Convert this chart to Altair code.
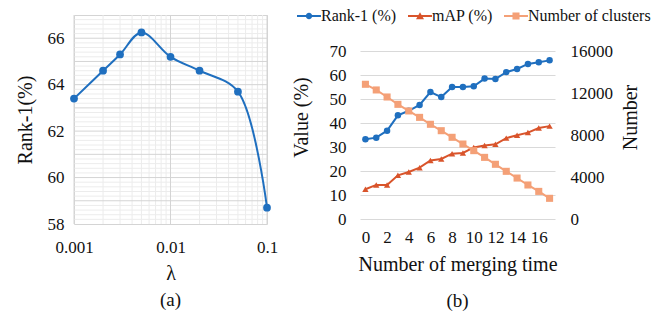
import altair as alt
import pandas as pd

FONT = "Liberation Serif"
TXT = "#111111"

# ---------------- (a) ----------------
lam = [0.001, 0.002, 0.003, 0.005, 0.01, 0.02, 0.05, 0.1]
rank1_a = [63.4, 64.6, 65.3, 66.25, 65.2, 64.6, 63.7, 58.7]
x_major_a = [0.001, 0.01, 0.1]
x_minor_a = [0.002, 0.003, 0.004, 0.005, 0.006, 0.007, 0.008, 0.009,
             0.02, 0.03, 0.04, 0.05, 0.06, 0.07, 0.08, 0.09]
y_labels_a = [58, 60, 62, 64, 66]
y_major_a = [59, 60, 61, 62, 63, 64, 65, 66]
y_minor_a = [round(58 + 0.2 * k, 1) for k in range(45) if k % 5 != 0]

# ---------------- (b) ----------------
merge = list(range(18))
rank1_b = [33.2, 33.9, 36.8, 43.2, 45.1, 47.5, 52.9, 50.8, 55.0, 55.0,
           55.3, 58.5, 58.3, 61.2, 62.5, 64.6, 65.3, 66.1]
map_b = [12.4, 14.2, 14.2, 18.2, 19.6, 21.4, 24.4, 25.0, 27.2, 27.5,
         29.8, 30.6, 31.1, 33.7, 34.9, 36.0, 37.9, 38.7]
clusters_b = [12830, 12290, 11620, 10920, 10290, 9680, 9020, 8410, 7780, 7140,
              6510, 5870, 5210, 4540, 3900, 3240, 2630, 1970]
series_names = ["Rank-1 (%)", "mAP (%)", "Number of clusters"]
series_colors = ["#1f6fbf", "#d9542b", "#f4a077"]
value_ticks = [0, 10, 20, 30, 40, 50, 60, 70]
number_ticks = [0, 4000, 8000, 12000, 16000]
merge_ticks = [0, 2, 4, 6, 8, 10, 12, 14, 16]

BLUE, RED, SALMON = series_colors
MAJOR_GRID = "#d4d4d4"
MINOR_GRID = "#ececec"

# legend symbols: line + marker (custom paths; symbol box is 8px, unit = 4px)
BAR = "M-3,-0.26H3V0.26H-3Z"
legend_paths = [
    BAR + "M-0.8,0A0.8,0.8,0,1,1,0.8,0A0.8,0.8,0,1,1,-0.8,0Z",
    BAR + "M0,-0.95L1.0,0.8H-1.0Z",
    BAR + "M-0.88,-0.88H0.88V0.88H-0.88Z",
]

common_axis = dict(labelFont=FONT, titleFont=FONT, labelColor=TXT, titleColor=TXT,
                   titleFontWeight="normal", domain=False, ticks=False,
                   labelFlush=False, labelOverlap=False)

# ---------------- chart (a) ----------------
df_a = pd.DataFrame({"lam": lam, "rank1": rank1_a})
x_scale_a = alt.Scale(type="log", domain=[0.001, 0.1], nice=False)
y_scale_a = alt.Scale(domain=[58, 67], nice=False, zero=False)
x_axis_a = alt.Axis(values=x_major_a, format=".3~f", grid=False,
                    labelFontSize=17, labelPadding=15,
                    titleFontSize=20, titlePadding=8, **common_axis)
y_axis_a = alt.Axis(values=y_labels_a, format="d", grid=False,
                    labelFontSize=17, labelPadding=10,
                    titleFontSize=20, titlePadding=12, **common_axis)

def xrules(vals, color):
    return alt.Chart(pd.DataFrame({"g": vals})).mark_rule(color=color, strokeWidth=1).encode(
        x=alt.X("g:Q", title="λ", scale=x_scale_a, axis=x_axis_a))

def yrules(vals, color):
    return alt.Chart(pd.DataFrame({"g": vals})).mark_rule(color=color, strokeWidth=1).encode(
        y=alt.Y("g:Q", title="Rank-1(%)", scale=y_scale_a, axis=y_axis_a))

base_a = alt.Chart(df_a).encode(
    x=alt.X("lam:Q", title="λ", scale=x_scale_a, axis=x_axis_a),
    y=alt.Y("rank1:Q", title="Rank-1(%)", scale=y_scale_a, axis=y_axis_a),
)
line_a = base_a.mark_line(interpolate="catmull-rom", color=BLUE, strokeWidth=2)
pts_a = base_a.mark_point(filled=True, size=60, color=BLUE, opacity=1)
chart_a = alt.layer(
    xrules(x_minor_a, MINOR_GRID), yrules(y_minor_a, MINOR_GRID),
    xrules(x_major_a, MAJOR_GRID), yrules(y_major_a, MAJOR_GRID),
    line_a, pts_a,
).properties(
    width=193, height=209,
    view=alt.ViewBackground(stroke=MAJOR_GRID),
    title=alt.TitleParams("(a)", orient="bottom", anchor="middle", fontSize=19,
                          fontWeight="normal", font=FONT, color=TXT, offset=8),
)

# ---------------- chart (b) ----------------
df_b = pd.DataFrame({"m": merge, "rank1": rank1_b, "map": map_b, "clusters": clusters_b})

x_b = alt.X(
    "m:Q", title="Number of merging time",
    scale=alt.Scale(domain=[-0.5, 17.5], nice=False, zero=False),
    axis=alt.Axis(values=merge_ticks, grid=False, format="d",
                  labelFontSize=17, labelPadding=10,
                  titleFontSize=20, titlePadding=9, **common_axis),
)
left_scale = alt.Scale(domain=[0, 85], nice=False)
left_axis = alt.Axis(values=value_ticks, grid=True, gridColor="#d9d9d9", format="d",
                     labelFontSize=17, labelPadding=14,
                     titleFontSize=20, titlePadding=18, **common_axis)
right_scale = alt.Scale(domain=[0, 16000 * 85 / 70], nice=False)
right_axis = alt.Axis(orient="right", values=number_ticks, grid=False, format="d",
                      labelFontSize=17, labelPadding=15,
                      titleFontSize=20, titlePadding=8, titleAngle=270, titleBaseline="top",
                      **common_axis)

def series_layers(field, color, shape, size, scale, axis, title):
    b = alt.Chart(df_b).encode(x=x_b, y=alt.Y(f"{field}:Q", title=title, scale=scale, axis=axis))
    ln = b.mark_line(color=color, strokeWidth=2)
    pt = b.mark_point(filled=True, shape=shape, size=size, color=color, opacity=1)
    return [ln, pt]

leg_kw = dict(title=None, orient="none", direction="horizontal",
              legendX=227, legendY=-7, labelFontSize=16, labelFont=FONT,
              labelColor=TXT, labelOffset=4, columnPadding=11, padding=0,
              symbolSize=64, symbolStrokeWidth=0, labelLimit=300)
df_leg = pd.DataFrame({"series": series_names})
legend_layer = alt.Chart(df_leg).transform_filter("false").mark_point(
    filled=True, size=64, opacity=1
).encode(
    color=alt.Color("series:N", scale=alt.Scale(domain=series_names, range=series_colors),
                    legend=alt.Legend(**leg_kw)),
    shape=alt.Shape("series:N", scale=alt.Scale(domain=series_names, range=legend_paths),
                    legend=alt.Legend(**leg_kw)),
)

left_group = alt.layer(
    *series_layers("rank1", BLUE, "circle", 42, left_scale, left_axis, "Value (%)"),
    *series_layers("map", RED, "triangle-up", 40, left_scale, left_axis, "Value (%)"),
    legend_layer,
)
right_group = alt.layer(
    *series_layers("clusters", SALMON, "square", 50, right_scale, right_axis, "Number"),
)
chart_b = alt.layer(left_group, right_group).resolve_scale(y="independent").properties(
    width=195, height=204,
    title=alt.TitleParams("(b)", orient="bottom", anchor="middle", fontSize=19,
                          fontWeight="normal", font=FONT, color=TXT, offset=18),
)

chart = alt.hconcat(chart_a, chart_b, spacing=93, bounds="flush").properties(
    padding={"left": 6, "top": 0, "right": 0, "bottom": 0}
).configure(font=FONT).configure_view(stroke=None).configure_axis(
    labelFont=FONT, titleFont=FONT
).configure_legend(labelFont=FONT).configure_title(font=FONT)

chart.save("out.html", embed_options={"renderer": "svg", "actions": False})
